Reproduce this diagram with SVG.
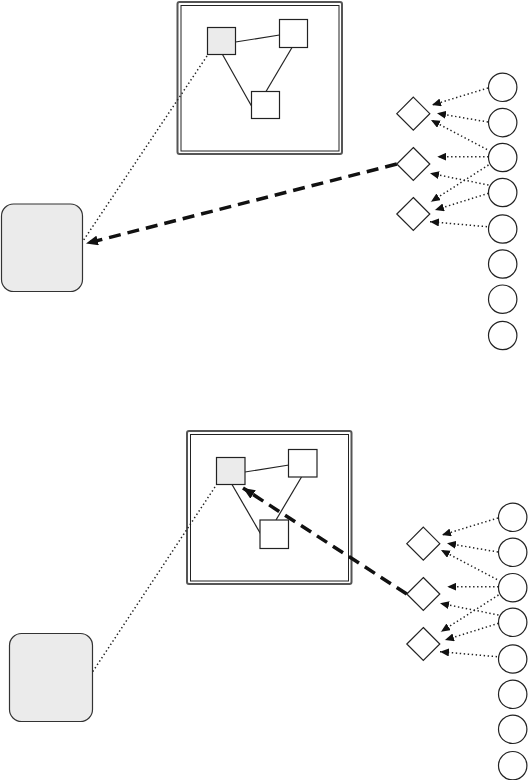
<svg xmlns="http://www.w3.org/2000/svg" width="528" height="780" viewBox="0 0 528 780">
  <defs>
    <marker id="dotHead" markerUnits="userSpaceOnUse" markerWidth="9" markerHeight="8" refX="9" refY="4" orient="auto">
      <path d="M0,0 L9,4 L0,8 z" fill="#111"/>
    </marker>
    <marker id="dashHead" markerUnits="userSpaceOnUse" markerWidth="12" markerHeight="10" refX="12" refY="5" orient="auto">
      <path d="M0,0 L12,5 L0,10 z" fill="#111"/>
    </marker>
    <style>
      .frameOut { fill: #fff; stroke: #555; stroke-width: 2; }
      .frameIn { fill: none; stroke: #222; stroke-width: 1; }
      .sq { fill: #fff; stroke: #222; stroke-width: 1.2; }
      .sq.sel { fill: #ebebeb; }
      .edge { stroke: #222; stroke-width: 1.2; fill: none; }
      .box { fill: #ebebeb; stroke: #333; stroke-width: 1.2; }
      .dia { fill: #fff; stroke: #222; stroke-width: 1.2; }
      .circ { fill: #fff; stroke: #222; stroke-width: 1.2; }
      .dotted { stroke: #222; stroke-width: 1.5; stroke-dasharray: 1.4 2.6; fill: none; }
      .feed { stroke: #222; stroke-width: 1.5; stroke-dasharray: 1.4 2.6; fill: none; marker-end: url(#dotHead); }
      .dashed { stroke: #111; stroke-width: 3.5; stroke-dasharray: 12 7; fill: none; marker-end: url(#dashHead); }
    </style>
  </defs>

  <!-- upper panel -->
  <g id="panel-top">
    <g id="top-cluster">
      <rect class="frameOut" x="177.5" y="2" width="164.5" height="152" rx="2"/>
      <rect class="frameIn" x="181" y="5.5" width="158" height="145.5"/>
    </g>
    <g id="top-edges">
      <line class="edge" x1="235.5" y1="42" x2="279.5" y2="35"/>
      <line class="edge" x1="222.5" y1="54.5" x2="251.5" y2="106"/>
      <line class="edge" x1="292" y1="47.5" x2="266" y2="91.5"/>
    </g>
    <g id="top-sq-a"><rect class="sq sel" x="207.5" y="27.5" width="28" height="27"/></g>
    <g id="top-sq-b"><rect class="sq" x="279.5" y="19.5" width="28" height="28"/></g>
    <g id="top-sq-c"><rect class="sq" x="251.5" y="91.5" width="28" height="27"/></g>
    <g id="top-box"><rect class="box" x="1.5" y="204" width="81" height="87.5" rx="12"/></g>
    <g id="top-d1"><polygon class="dia" points="413.3,97.2 429.8,113.7 413.3,130.2 396.8,113.7"/></g>
    <g id="top-d2"><polygon class="dia" points="413.3,147.5 429.8,164 413.3,180.5 396.8,164"/></g>
    <g id="top-d3"><polygon class="dia" points="413.3,197.5 429.8,214 413.3,230.5 396.8,214"/></g>
    <g id="top-c1"><circle class="circ" cx="502.7" cy="87.3" r="14.2"/></g>
    <g id="top-c2"><circle class="circ" cx="502.7" cy="122.6" r="14.2"/></g>
    <g id="top-c3"><circle class="circ" cx="502.7" cy="157.5" r="14.2"/></g>
    <g id="top-c4"><circle class="circ" cx="502.7" cy="192.5" r="14.2"/></g>
    <g id="top-c5"><circle class="circ" cx="502.7" cy="229" r="14.2"/></g>
    <g id="top-c6"><circle class="circ" cx="502.7" cy="264" r="14.2"/></g>
    <g id="top-c7"><circle class="circ" cx="502.7" cy="299.2" r="14.2"/></g>
    <g id="top-c8"><circle class="circ" cx="502.7" cy="335.5" r="14.2"/></g>
    <g id="top-connectors">
      <line class="dotted" x1="207" y1="56" x2="83" y2="241"/>
      <line class="feed" x1="488" y1="88" x2="432" y2="105"/>
      <line class="feed" x1="488" y1="122" x2="437" y2="113.3"/>
      <line class="feed" x1="487" y1="149.5" x2="431" y2="120"/>
      <line class="feed" x1="488.5" y1="156.7" x2="437.3" y2="156.7"/>
      <line class="feed" x1="488.5" y1="185" x2="430" y2="173.3"/>
      <line class="feed" x1="488.5" y1="165" x2="431" y2="201.7"/>
      <line class="feed" x1="488.5" y1="193.3" x2="435" y2="210"/>
      <line class="feed" x1="487" y1="226.7" x2="430" y2="221.7"/>
      <line class="dashed" x1="396.8" y1="164" x2="86" y2="243.5"/>
    </g>
  </g>

  <!-- lower panel -->
  <g id="panel-bottom" transform="translate(9.5,430)">
    <g id="bot-cluster">
      <rect class="frameOut" x="177.5" y="1" width="164.5" height="153" rx="2"/>
      <rect class="frameIn" x="181" y="4.5" width="158" height="146.5"/>
    </g>
    <g id="bot-edges">
      <line class="edge" x1="235.5" y1="42" x2="279.5" y2="35"/>
      <line class="edge" x1="222.5" y1="54.5" x2="251.5" y2="104.5"/>
      <line class="edge" x1="292" y1="47" x2="266.5" y2="90"/>
    </g>
    <g id="bot-sq-a"><rect class="sq sel" x="207" y="27.5" width="28.5" height="27"/></g>
    <g id="bot-sq-b"><rect class="sq" x="279" y="19.5" width="28.5" height="27.5"/></g>
    <g id="bot-sq-c"><rect class="sq" x="250.5" y="90" width="28.5" height="28.5"/></g>
    <g id="bot-box"><rect class="box" x="0" y="203.5" width="83" height="88" rx="12"/></g>
    <g id="bot-d1"><polygon class="dia" points="413.8,97.2 430.3,113.7 413.8,130.2 397.3,113.7"/></g>
    <g id="bot-d2"><polygon class="dia" points="413.8,147.5 430.3,164 413.8,180.5 397.3,164"/></g>
    <g id="bot-d3"><polygon class="dia" points="413.8,197.5 430.3,214 413.8,230.5 397.3,214"/></g>
    <g id="bot-c1"><circle class="circ" cx="503.2" cy="87.3" r="14.2"/></g>
    <g id="bot-c2"><circle class="circ" cx="503.2" cy="122.3" r="14.2"/></g>
    <g id="bot-c3"><circle class="circ" cx="503.2" cy="157.7" r="14.2"/></g>
    <g id="bot-c4"><circle class="circ" cx="503.2" cy="192.3" r="14.2"/></g>
    <g id="bot-c5"><circle class="circ" cx="503.2" cy="229" r="14.2"/></g>
    <g id="bot-c6"><circle class="circ" cx="503.2" cy="264.3" r="14.2"/></g>
    <g id="bot-c7"><circle class="circ" cx="503.2" cy="299.3" r="14.2"/></g>
    <g id="bot-c8"><circle class="circ" cx="503.2" cy="335.7" r="14.2"/></g>
    <g id="bot-connectors">
      <line class="dotted" x1="205.5" y1="57" x2="83" y2="242"/>
      <line class="feed" x1="488.5" y1="88" x2="432.5" y2="105"/>
      <line class="feed" x1="488.5" y1="122" x2="437.5" y2="113.3"/>
      <line class="feed" x1="487.5" y1="149.5" x2="431.5" y2="120"/>
      <line class="feed" x1="489" y1="156.7" x2="437.8" y2="156.7"/>
      <line class="feed" x1="489" y1="185" x2="430.5" y2="173.3"/>
      <line class="feed" x1="489" y1="165" x2="431.5" y2="201.7"/>
      <line class="feed" x1="489" y1="193.3" x2="435.5" y2="210"/>
      <line class="feed" x1="487.5" y1="226.7" x2="430.5" y2="221.7"/>
      <line class="dashed" x1="397.3" y1="164" x2="233.5" y2="58"/>
    </g>
  </g>
</svg>
